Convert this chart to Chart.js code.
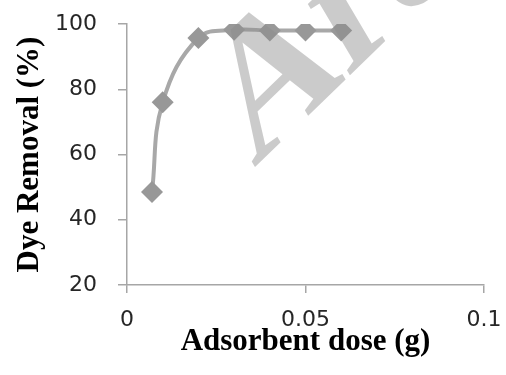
<!DOCTYPE html>
<html><head><meta charset="utf-8">
<script src="https://cdn.jsdelivr.net/npm/chart.js@4.4.0/dist/chart.umd.min.js"></script>
<style>html,body{margin:0;padding:0;background:#fff;} #c{display:block;}</style>
</head><body>
<canvas id="c" width="506" height="375"></canvas>
<script>
const doses = [0.007, 0.01, 0.02, 0.03, 0.04, 0.05, 0.06];
const removal = [48.5, 76, 95.7, 98.2, 98, 98, 98];
const xTicks = [0, 0.05, 0.1];
const yTicks = [20, 40, 60, 80, 100];
const xTitle = 'Adsorbent dose (g)';
const yTitle = 'Dye Removal (%)';
const watermark = 'Archive';

const axisColor = '#a6a6a6';
const points = doses.map((d, i) => ({x: d, y: removal[i]}));

const watermarkPlugin = {
  id: 'watermark',
  afterDraw(chart) {
    const ctx = chart.ctx;
    ctx.save();
    ctx.transform(0.714, -0.690, 0.51, 0.86, 253.7, 168.2);
    ctx.font = 'bold 180px "Liberation Serif"';
    ctx.fillStyle = 'rgba(140,140,140,0.45)';
    ctx.textBaseline = 'alphabetic';
    ctx.fillText(watermark, 0, 0);
    ctx.restore();
  }
};

new Chart(document.getElementById('c'), {
  type: 'scatter',
  data: {
    datasets: [{
      data: points,
      showLine: true,
      tension: 0.4,
      borderColor: '#a8a8a8',
      borderWidth: 4,
      pointStyle: 'rectRot',
      pointRadius: 11,
      pointHoverRadius: 11,
      pointBackgroundColor: '#989898',
      pointBorderColor: '#989898',
      pointBorderWidth: 0
    }]
  },
  options: {
    responsive: false,
    animation: false,
    events: [],
    layout: {padding: {top: 24, right: 22, left: 0, bottom: 0}},
    plugins: {legend: {display: false}, tooltip: {enabled: false}},
    scales: {
      x: {
        type: 'linear', min: 0, max: 0.1, position: 'bottom',
        afterBuildTicks(s) { s.ticks = xTicks.map(v => ({value: v})); },
        afterFit(s) { s.height = 90; s.paddingLeft = 0; s.paddingRight = 0; },
        grid: {display: true, drawOnChartArea: false, drawTicks: true, tickLength: 8, color: axisColor, lineWidth: 1.5},
        border: {display: true, color: axisColor, width: 1.5},
        ticks: {font: {family: 'DejaVu Sans', size: 22}, color: '#262626', padding: 14, maxRotation: 0,
                callback: v => String(v)},
        title: {display: true, text: xTitle, color: '#000',
                font: {family: 'Liberation Serif', size: 31, weight: 'bold'}, padding: {top: 0, bottom: 14}}
      },
      y: {
        type: 'linear', min: 20, max: 100,
        afterBuildTicks(s) { s.ticks = yTicks.map(v => ({value: v})); },
        afterFit(s) { s.width = 127; s.paddingTop = 0; s.paddingBottom = 0; },
        grid: {display: true, drawOnChartArea: false, drawTicks: true, tickLength: 9, color: axisColor, lineWidth: 1.5},
        border: {display: true, color: axisColor, width: 1.5},
        ticks: {font: {family: 'DejaVu Sans', size: 22}, color: '#262626', padding: 21,
                callback: v => String(v)},
        title: {display: true, text: yTitle, color: '#000',
                font: {family: 'Liberation Serif', size: 31, weight: 'bold'}, padding: {top: 11, bottom: 0}}
      }
    }
  },
  plugins: [watermarkPlugin]
});
</script>
</body></html>
